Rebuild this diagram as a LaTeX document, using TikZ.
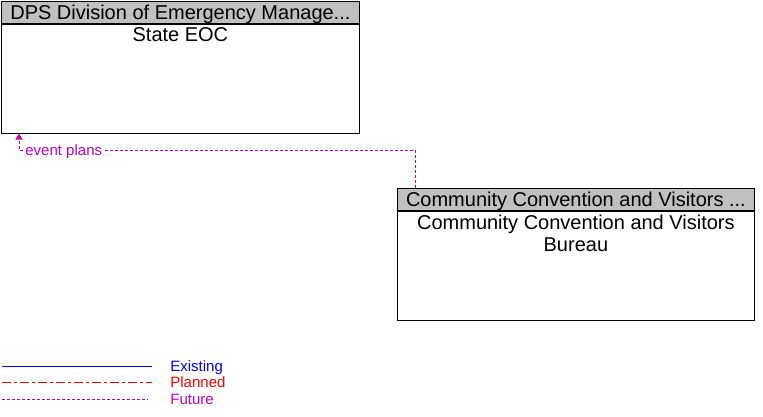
\documentclass[tikz,border=0pt]{standalone}
\usepackage{fontspec}
\setmainfont{Liberation Sans}
\usetikzlibrary{arrows.meta, positioning}
\definecolor{hdrgray}{RGB}{192,192,192}
\definecolor{futurec}{RGB}{192,0,192}

\begin{document}
\begin{tikzpicture}[x=1pt,y=-1pt,>={Triangle[width=7pt,length=6pt]},line width=0.8pt]
\tikzstyle{hdr}=[draw=black,fill=hdrgray,inner sep=0pt,anchor=north west,minimum height=22pt,
                 text height=14pt,text depth=0pt,font=\fontsize{20pt}{22pt}\selectfont]
\tikzstyle{body}=[draw=black,fill=white,inner sep=0pt,anchor=north,minimum height=109pt]
\tikzstyle{btext}=[anchor=north,inner sep=0pt,yshift=-3.5pt,align=center,font=\fontsize{20pt}{22pt}\selectfont]
\tikzstyle{small}=[inner sep=0pt,text height=10.7pt,text depth=0pt,font=\fontsize{15pt}{17pt}\selectfont]
\tikzstyle{future}=[draw=futurec,dash pattern=on 3pt off 2pt]
\useasboundingbox (0,0) rectangle (763,417);

        % boxes
        \node[hdr,minimum width=358pt]          (dpsH) at (1,1)          {DPS Division of Emergency Manage...};
        \node[body,minimum width=358pt,label={[btext]north:State EOC}]  (dps) at (dpsH.south) {};

        \node[hdr,minimum width=357pt]          (ccvH) at (397,188)      {Community Convention and Visitors ...};
        \node[body,minimum width=357pt,label={[btext]north:Community Convention and Visitors\\Bureau}]  (ccv) at (ccvH.south) {};

        % flow
        \coordinate (bend) at (415,150);
        \coordinate (tip)  at (19,150);
        \draw[future,->,fill=none] (ccvH.north -| bend) -- (bend) -| (dps.south -| tip);
        \node[small,text=futurec,fill=white,anchor=west,inner xsep=1pt] (ep) at ([xshift=5pt]tip) {event plans};

        % legend
        \coordinate (ex0) at (2,366);
        \coordinate (pl0) at (2,382);
        \coordinate (fu0) at (2,399);
        \draw[blue] (ex0) -- ++(150,0);
        \draw[red,dash pattern=on 9pt off 3pt on 3pt off 3pt] (pl0) -- ++(150,0);
        \draw[future] (fu0) -- ++(146,0);
        \node[small,text=blue,anchor=west]    (lex) at (170,366) {Existing};
        \node[small,text=red,anchor=west]     (lpl) at (170,382) {Planned};
        \node[small,text=futurec,anchor=west] (lfu) at (170,399) {Future};

\end{tikzpicture}
\end{document}
